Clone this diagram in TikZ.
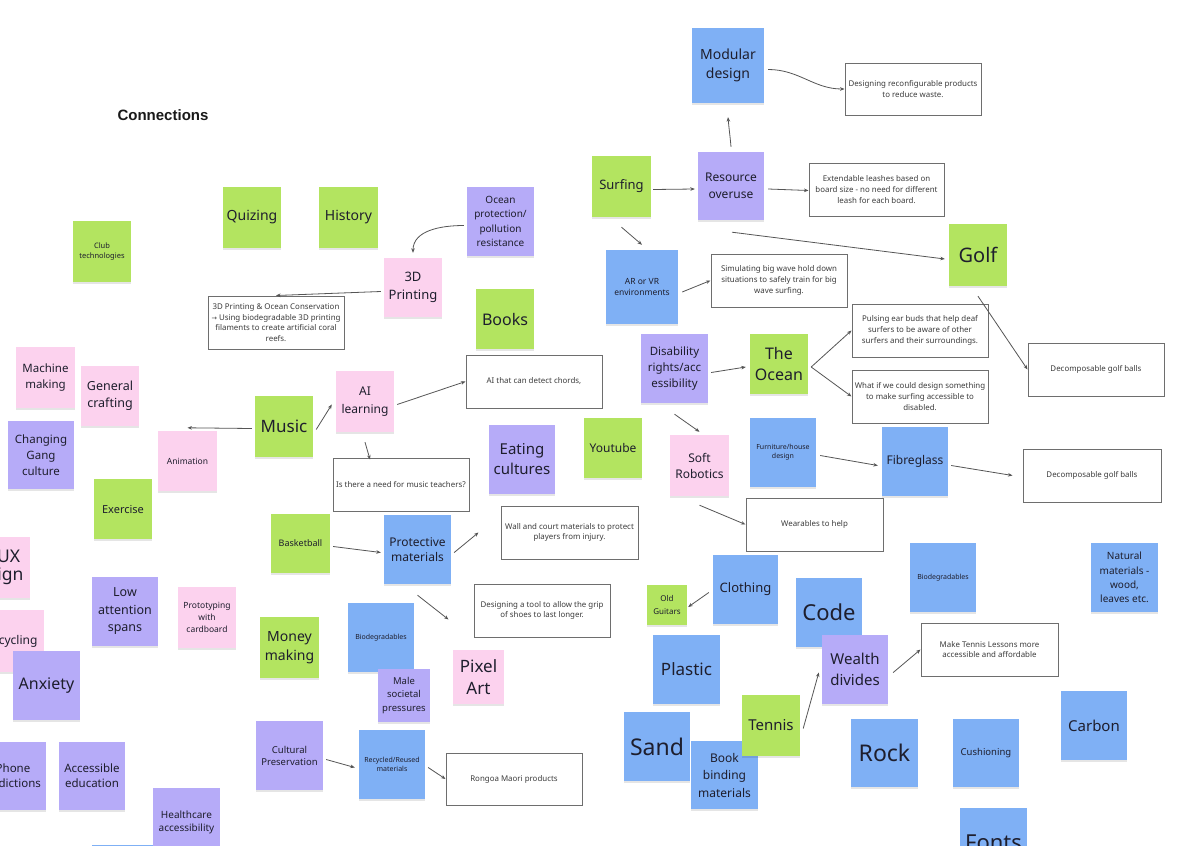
\documentclass[tikz,border=0pt]{standalone}
\usepackage{fontspec}
\setmainfont{Noto Sans}
\newfontfamily\symfont{DejaVu Sans}
\newfontfamily\titlefont{Liberation Sans}
\usetikzlibrary{arrows.meta,shadows}
\definecolor{ngreen}{RGB}{179,228,96}
\definecolor{npurple}{RGB}{182,171,248}
\definecolor{nblue}{RGB}{127,176,245}
\definecolor{npink}{RGB}{252,210,238}
\definecolor{notetext}{RGB}{30,30,45}
\definecolor{boxtext}{RGB}{60,60,60}
\definecolor{boxline}{RGB}{110,110,110}
\definecolor{arrowcol}{RGB}{85,85,85}
\tikzset{
  note/.style={rectangle, draw=none, align=center, inner sep=1pt, text=notetext,
    drop shadow={shadow xshift=0pt, shadow yshift=-1.5pt, opacity=0.10, fill=black}},
  tbox/.style={rectangle, draw=boxline, line width=1pt, fill=white, align=center,
    inner sep=1pt, text=boxtext, font=\fontsize{7.9}{10.6}\selectfont},
  conn/.style={draw=arrowcol, line width=0.8pt, -{Stealth[length=4.5pt,width=3.6pt]}},
}
% sticky note: name, x1, y1, x2, y2, colour, font size, leading, text
\newcommand\stk[9]{\node[note, fill=#6, minimum width={((#4)-(#2))*1pt}, minimum height={((#5)-(#3))*1pt},
  font=\fontsize{#7}{#8}\selectfont] (#1) at ({((#2)+(#4))/2},{((#3)+(#5))/2}) {#9};}
% text box: name, x1, y1, x2, y2, text
\newcommand\tbx[6]{\node[tbox, minimum width={((#4)-(#2))*1pt}, minimum height={((#5)-(#3))*1pt}]
  (#1) at ({((#2)+(#4))/2},{((#3)+(#5))/2}) {#6};}
\begin{document}
\begin{tikzpicture}[x=1pt,y=-1pt]
\useasboundingbox (0,0) rectangle (1181,846);
\clip (0,0) rectangle (1181,846);
\fill[white] (0,0) rectangle (1181,846);

\node[font=\titlefont\bfseries\fontsize{15}{18}\selectfont, text=black!90] (title) at (163,115) {Connections};

% left column
\stk{clubt}{73}{221}{131}{282}{ngreen}{7.5}{10}{Club\\technologies}
\stk{quiz}{223}{187}{281}{248}{ngreen}{14}{17}{Quizing}
\stk{hist}{319}{187}{378}{248}{ngreen}{14}{17}{History}
\stk{op}{467}{187}{534}{256}{npurple}{10}{14.3}{Ocean\\protection/\\pollution\\resistance}
\stk{p3d}{384}{258}{442}{317}{npink}{13}{18}{3D\\Printing}
\stk{books}{476}{289}{534}{349}{ngreen}{16}{20}{Books}
\stk{mach}{16}{347}{75}{408}{npink}{11.5}{15.3}{Machine\\making}
\stk{gen}{81}{366}{139}{426}{npink}{12.5}{17.3}{General\\crafting}
\stk{gang}{8}{421}{74}{489}{npurple}{11.5}{15.7}{Changing\\Gang\\culture}
\stk{anim}{158}{431}{217}{491}{npink}{8.5}{11}{Animation}
\stk{exer}{94}{479}{152}{539}{ngreen}{11}{14}{Exercise}
\stk{uiux}{-38}{537}{30}{598}{npink}{17.5}{18.5}{UI/UX\\design}
\stk{recyc}{-22}{610}{44}{672}{npink}{12}{14}{Recycling}
\stk{anx}{13}{651}{80}{720}{npurple}{16}{20}{Anxiety}
\stk{low}{92}{577}{158}{646}{npurple}{12.5}{17.5}{Low\\attention\\spans}
\stk{proto}{178}{587}{236}{648}{npink}{8.5}{12.2}{Prototyping\\with\\cardboard}
\stk{phone}{-20}{742}{46}{810}{npurple}{11.5}{15}{Phone\\addictions}
\stk{acc}{59}{742}{125}{810}{npurple}{11.5}{15}{Accessible\\education}
\stk{health}{153}{788}{220}{857}{npurple}{10}{12.7}{Healthcare\\accessibility}
\stk{bluebot}{92}{845}{153}{914}{nblue}{8}{10}{}

% middle
\stk{music}{255}{396}{313}{457}{ngreen}{17}{20}{Music}
\stk{ai}{336}{371}{394}{432}{npink}{12}{17.7}{AI\\learning}
\stk{eat}{489}{425}{555}{494}{npurple}{15}{20}{Eating\\cultures}
\stk{bball}{271}{514}{330}{573}{ngreen}{9}{11}{Basketball}
\stk{prot}{384}{515}{451}{584}{nblue}{12}{15.7}{Protective\\materials}
\stk{money}{260}{617}{319}{678}{ngreen}{14}{19.3}{Money\\making}
\stk{biodl}{348}{603}{414}{672}{nblue}{7}{9}{Biodegradables}
\stk{male}{378}{669}{430}{722}{npurple}{9.5}{13.3}{Male\\societal\\pressures}
\stk{pixel}{453}{650}{504}{704}{npink}{17}{21.7}{Pixel\\Art}
\stk{cult}{256}{721}{323}{790}{npurple}{9.5}{12}{Cultural\\Preservation}
\stk{rec}{359}{730}{425}{799}{nblue}{7}{9}{Recycled/Reused\\materials}

% right
\stk{mod}{692}{28}{764}{103}{nblue}{14}{19.5}{Modular\\design}
\stk{surf}{592}{156}{651}{217}{ngreen}{13}{16}{Surfing}
\stk{res}{698}{152}{764}{220}{npurple}{12}{16.7}{Resource\\overuse}
\stk{golf}{949}{224}{1007}{286}{ngreen}{20}{24}{Golf}
\stk{arvr}{606}{250}{678}{324}{nblue}{8.5}{11}{AR or VR\\environments}
\stk{dis}{641}{334}{708}{403}{npurple}{11.5}{15.8}{Disability\\rights/acc\\essibility}
\stk{ocean}{750}{334}{808}{394}{ngreen}{16}{21.7}{The\\Ocean}
\stk{you}{584}{418}{642}{478}{ngreen}{12}{15}{Youtube}
\stk{soft}{670}{435}{729}{496}{npink}{12}{16}{Soft\\Robotics}
\stk{furn}{750}{418}{816}{487}{nblue}{7}{9}{Furniture/house\\design}
\stk{fibre}{882}{427}{948}{496}{nblue}{12}{15}{Fibreglass}
\stk{biodr}{910}{543}{976}{612}{nblue}{7}{9}{Biodegradables}
\stk{natur}{1091}{543}{1158}{612}{nblue}{10}{14.3}{Natural\\materials -\\wood,\\leaves etc.}
\stk{cloth}{713}{555}{778}{624}{nblue}{13}{16}{Clothing}
\stk{oldg}{647}{585}{687}{625}{ngreen}{8}{13}{Old\\Guitars}
\stk{code}{796}{578}{862}{647}{nblue}{22}{26}{Code}
\stk{plastic}{653}{635}{720}{704}{nblue}{17}{20}{Plastic}
\stk{wealth}{822}{635}{888}{704}{npurple}{15}{21.7}{Wealth\\divides}
\stk{sand}{624}{712}{690}{781}{nblue}{23}{28}{Sand}
\stk{book}{691}{741}{758}{809}{nblue}{12}{17.5}{Book\\binding\\materials}
\stk{tennis}{742}{695}{800}{756}{ngreen}{15}{18}{Tennis}
\stk{rock}{851}{719}{918}{787}{nblue}{23}{28}{Rock}
\stk{cush}{953}{719}{1019}{787}{nblue}{9.5}{12}{Cushioning}
\stk{carbon}{1061}{691}{1127}{760}{nblue}{15}{18}{Carbon}
\stk{fonts}{960}{808}{1027}{877}{nblue}{22}{26}{Fonts}

% text boxes
\tbx{box3d}{208}{296}{344}{349}{3D Printing \& Ocean Conservation\\{\symfont\fontsize{6.5}{10.6}\selectfont →} Using biodegradable 3D printing\\filaments to create artificial coral\\reefs.}
\tbx{desbox}{845}{63}{981}{115}{Designing reconfigurable products\\to reduce waste.}
\tbx{extbox}{809}{163}{944}{216}{Extendable leashes based on\\board size - no need for different\\leash for each board.}
\tbx{sim}{711}{254}{847}{307}{Simulating big wave hold down\\situations to safely train for big\\wave surfing.}
\tbx{dec1}{1028}{343}{1164}{396}{Decomposable golf balls}
\tbx{pulse}{852}{304}{988}{357}{Pulsing ear buds that help deaf\\surfers to be aware of other\\surfers and their surroundings.}
\tbx{whatif}{852}{370}{988}{423}{What if we could design something\\to make surfing accessible to\\disabled.}
\tbx{dec2}{1023}{449}{1161}{502}{Decomposable golf balls}
\tbx{wear}{746}{498}{883}{551}{Wearables to help}
\tbx{chords}{466}{355}{602}{408}{AI that can detect chords,}
\tbx{need}{333}{458}{469}{511}{Is there a need for music teachers?}
\tbx{wall}{501}{506}{638}{559}{Wall and court materials to protect\\players from injury.}
\tbx{grip}{474}{584}{610}{637}{Designing a tool to allow the grip\\of shoes to last longer.}
\tbx{mt}{921}{623}{1058}{676}{Make Tennis Lessons more\\accessible and affordable}
\tbx{rong}{446}{753}{582}{805}{Rongoa Maori products}

% connectors
\draw[conn] ([xshift=-3pt,yshift=-4pt]op.west) to[out=180,in=90] ([yshift=5pt]p3d.north);
\draw[conn] ([xshift=-3pt,yshift=-4pt]p3d.west) -- (box3d.north);
\draw[conn] ([xshift=4pt,yshift=-4pt]mod.east) to[out=0,in=180] (desbox.west);
\draw[conn] ([xshift=2pt,yshift=-3pt]surf.east) -- ([xshift=-3pt,yshift=-3pt]res.west);
\draw[conn] ([yshift=5pt]res.north) to[out=95,in=-85] ([yshift=-14pt]mod.south);
\draw[conn] ([xshift=4pt,yshift=-3pt]res.east) -- ([yshift=-1pt]extbox.west);
\draw[conn] ([yshift=-10pt]surf.south) -- ([yshift=5pt]arvr.north);
\draw[conn] ([xshift=1pt,yshift=-12pt]res.south) -- ([xshift=-4pt,yshift=-4pt]golf.west);
\draw[conn] ([xshift=4pt,yshift=-5pt]arvr.east) -- (sim.west);
\draw[conn] ([yshift=-10pt]golf.south) -- (dec1.west);
\draw[conn] ([xshift=3pt,yshift=-4pt]dis.east) -- ([xshift=-4pt,yshift=-3pt]ocean.west);
\draw[conn] ([xshift=3pt,yshift=-3pt]ocean.east) -- (pulse.west);
\draw[conn] ([xshift=3pt,yshift=-3pt]ocean.east) -- (whatif.west);
\draw[conn] ([yshift=-11pt]dis.south) -- ([yshift=3pt]soft.north);
\draw[conn] ([xshift=4pt,yshift=-3pt]furn.east) -- ([xshift=-4pt,yshift=-4pt]fibre.west);
\draw[conn] ([xshift=3pt,yshift=-4pt]fibre.east) -- ([xshift=-10pt]dec2.west);
\draw[conn] ([yshift=-9pt]soft.south) -- (wear.west);
\draw[conn] ([xshift=-4pt,yshift=-3pt]cloth.west) -- ([xshift=1pt,yshift=-2pt]oldg.east);
\draw[conn] ([xshift=5pt,yshift=-3pt]wealth.east) -- (mt.west);
\draw[conn] ([xshift=3pt,yshift=-3pt]tennis.east) -- ([xshift=-3pt,yshift=-3pt]wealth.west);
\draw[conn] ([xshift=3pt,yshift=-3pt]music.east) -- ([xshift=-4pt,yshift=-3pt]ai.west);
\draw[conn] ([xshift=3pt,yshift=-3pt]ai.east) -- (chords.west);
\draw[conn] ([yshift=-10pt]ai.south) -- ([xshift=-31pt,yshift=-2pt]need.north);
\draw[conn] ([xshift=-3pt,yshift=-2pt]music.west) -- ([yshift=3pt]anim.north);
\draw[conn] ([xshift=3pt,yshift=-3pt]bball.east) -- ([xshift=-3pt,yshift=-3pt]prot.west);
\draw[conn] ([xshift=3pt,yshift=-3pt]prot.east) -- ([xshift=-22pt]wall.west);
\draw[conn] ([yshift=-11pt]prot.south) -- ([xshift=-25pt,yshift=-9pt]grip.west);
\draw[conn] ([xshift=3pt,yshift=-4pt]cult.east) -- ([xshift=-4pt,yshift=-3pt]rec.west);
\draw[conn] ([xshift=3pt,yshift=-3pt]rec.east) -- (rong.west);
\end{tikzpicture}
\end{document}
